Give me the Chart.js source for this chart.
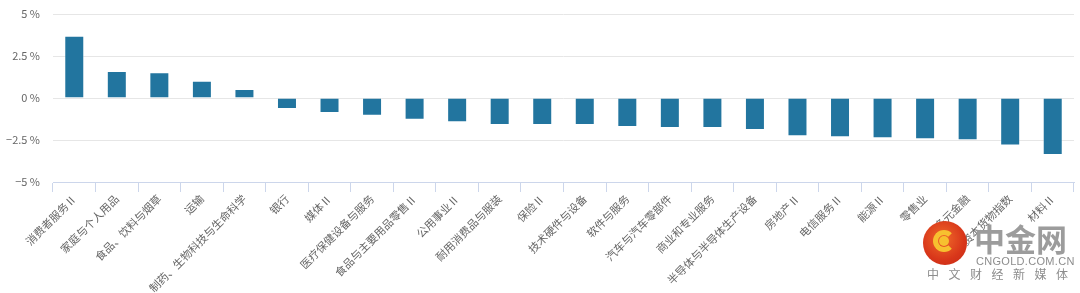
<!DOCTYPE html>
<html>
<head>
<meta charset="utf-8">
<script src="https://cdn.jsdelivr.net/npm/chart.js@4/dist/chart.umd.min.js"></script>
<style>
  html, body { margin: 0; padding: 0; background: #fff; }
  #wrap { position: relative; width: 1080px; height: 293px; overflow: hidden; }
  #c { position: absolute; left: 0; top: 0; }
  .wm { position: absolute; font-family: "Noto Sans CJK SC", sans-serif; color: #8a8a8a; white-space: nowrap; line-height: 1; }
  #logo { position: absolute; left: 923px; top: 221px; width: 44px; height: 44px; border-radius: 50%;
          background: radial-gradient(circle at 45% 40%, #f06a2a 0%, #d8361a 60%, #c42814 100%); }
  #logo .in { position: absolute; left: 10px; top: 9px; width: 22px; height: 22px; border-radius: 50%;
          border: 5px solid #f7c12f; border-right-color: transparent; box-sizing: border-box; }
  #logo .in2 { position: absolute; left: 16px; top: 15px; width: 10px; height: 10px; border-radius: 50%; background: #f7c12f; }
</style>
</head>
<body>
<div id="wrap">
  <canvas id="c" width="1080" height="293"></canvas>
  <div id="logo"><div class="in"></div><div class="in2"></div></div>
  <div class="wm" style="left:974px; top:222px; font-size:31px; font-weight:bold; color:#9c9c9c;">中金网</div>
  <div class="wm" style="left:976px; top:256px; font-size:11px; letter-spacing:0.3px; color:#8d8d8d; font-family:'Liberation Sans',sans-serif;">CNGOLD.COM.CN</div>
  <div class="wm" style="left:927px; top:268px; font-size:12px; letter-spacing:9.5px; color:#8d8d8d;">中文财经新媒体</div>
</div>
<script>
const categories = [
  "消费者服务Ⅱ", "家庭与个人用品", "食品、饮料与烟草", "运输", "制药、生物科技与生命科学",
  "银行", "媒体Ⅱ", "医疗保健设备与服务", "食品与主要用品零售Ⅱ", "公用事业Ⅱ",
  "耐用消费品与服装", "保险Ⅱ", "技术硬件与设备", "软件与服务", "汽车与汽车零部件",
  "商业和专业服务", "半导体与半导体生产设备", "房地产Ⅱ", "电信服务Ⅱ", "能源Ⅱ",
  "零售业", "多元金融", "资本货物指数", "材料Ⅱ"
];
const changePct = [
  3.71, 1.60, 1.54, 1.03, 0.53,
  -0.65, -0.89, -1.05, -1.29, -1.45,
  -1.60, -1.60, -1.60, -1.72, -1.78,
  -1.78, -1.90, -2.28, -2.33, -2.39,
  -2.45, -2.51, -2.83, -3.40
];
const yTicks = [-5, -2.5, 0, 2.5, 5];

const labelFont = { family: "'Noto Sans CJK SC', 'Noto Sans', sans-serif", size: 11 };

new Chart(document.getElementById('c'), {
  type: 'bar',
  data: {
    labels: categories,
    datasets: [{
      data: changePct,
      backgroundColor: '#22759f',
      borderColor: 'rgba(255,255,255,0.35)',
      borderWidth: 1,
      categoryPercentage: 1,
      barPercentage: 0.47
    }]
  },
  options: {
    responsive: false,
    animation: false,
    devicePixelRatio: 1,
    layout: { padding: { top: 14, right: 6, left: 0, bottom: 0 } },
    plugins: { legend: { display: false }, tooltip: { enabled: false } },
    scales: {
      x: {
        offset: true,
        grid: { offset: true, drawOnChartArea: false, drawTicks: true, tickLength: 10, color: '#ccd6eb' },
        border: { display: true, color: '#ccd6eb', width: 1 },
        ticks: {
          autoSkip: false, maxRotation: 45, minRotation: 45, padding: 0,
          color: '#666666', font: labelFont
        },
        afterFit: (s) => { s.height = 111; }
      },
      y: {
        min: -5, max: 5,
        afterBuildTicks: (s) => { s.ticks = yTicks.map(v => ({ value: v })); },
        grid: { color: '#e6e6e6', drawTicks: false, lineWidth: 1 },
        border: { display: false },
        ticks: {
          padding: 13, color: '#666666', font: labelFont,
          callback: (v) => (v < 0 ? '\u2212' + Math.abs(v) : v) + ' %'
        },
        afterFit: (s) => { s.width = 53; s.paddingTop = 0; s.paddingBottom = 0; }
      }
    }
  }
});
</script>
</body>
</html>
